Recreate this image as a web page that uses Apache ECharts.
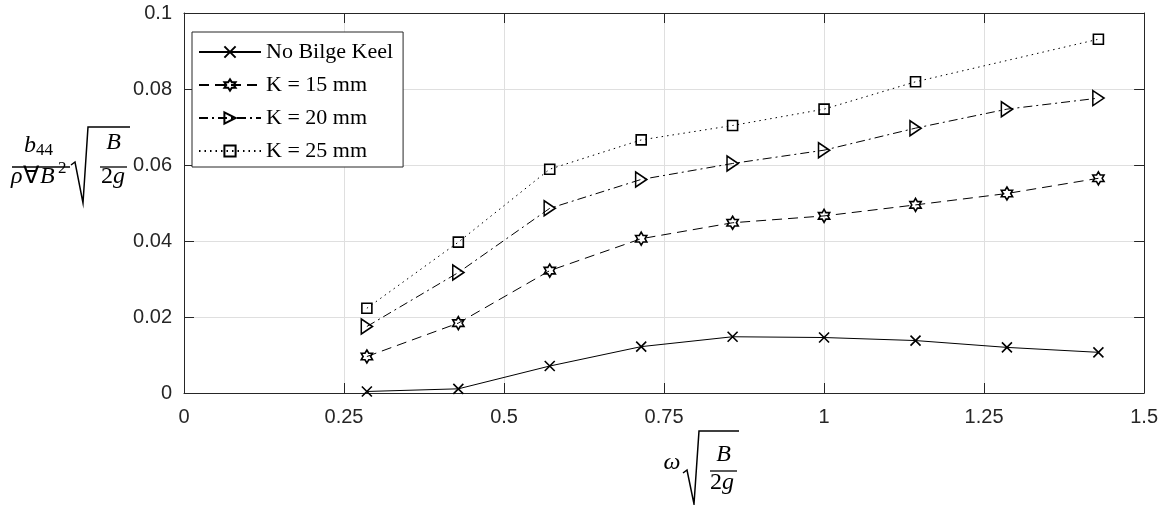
<!DOCTYPE html>
<html>
<head>
<meta charset="utf-8">
<script src="https://cdn.jsdelivr.net/npm/echarts@6/dist/echarts.min.js"></script>
<style>
html,body{margin:0;padding:0;background:#fff;}
#chart{width:1161px;height:505px;}
</style>
</head>
<body>
<div id="chart"></div>
<script>
// ---- data ----
const xValues = [0.2857, 0.4286, 0.5714, 0.7143, 0.8571, 1.0, 1.1429, 1.2857, 1.4286];
const noKeel = [0.0004, 0.0011, 0.0071, 0.0122, 0.0148, 0.0146, 0.0138, 0.0120, 0.0107];
const k15 = [0.0096, 0.0184, 0.0322, 0.0406, 0.0448, 0.0466, 0.0495, 0.0525, 0.0565];
const k20 = [0.0175, 0.0317, 0.0486, 0.0562, 0.0604, 0.0639, 0.0697, 0.0747, 0.0776];
const k25 = [0.0223, 0.0397, 0.0589, 0.0666, 0.0704, 0.0747, 0.0819, null, 0.0931];
const seriesNames = ['No Bilge Keel', 'K = 15 mm', 'K = 20 mm', 'K = 25 mm'];
const xTicks = [0, 0.25, 0.5, 0.75, 1, 1.25, 1.5];
const yTicks = [0, 0.02, 0.04, 0.06, 0.08, 0.1];

function pairs(ys) {
  const out = [];
  ys.forEach((y, i) => { if (y !== null) out.push([xValues[i], y]); });
  return out;
}

const CROSS = 'path://M0,0L10,10M10,0L0,10';
const HEX = 'path://M50,0L64.43,25L93.3,25L78.87,50L93.3,75L64.43,75L50,100L35.57,75L6.7,75L21.13,50L6.7,25L35.57,25Z';
const TRI = 'path://M0,0L12,7L0,14Z';

const AX = '#262626';
const tickFont = {fontFamily: '"Liberation Sans", Arial, sans-serif', fontSize: 20, color: AX};

function mkSeries(name, ys, symbol, size, dash) {
  return {
    name: name, type: 'line', data: pairs(ys),
    symbol: symbol, symbolSize: size, symbolKeepAspect: true,
    showSymbol: true,
    lineStyle: {color: '#000', width: 1, type: dash},
    itemStyle: {color: 'rgba(0,0,0,0)', borderColor: '#000', borderWidth: 1.6},
    emphasis: {disabled: true},
    z: 5
  };
}

const serif = '"Liberation Serif", "Times New Roman", serif';
function T(text, x, y, size, italic, align) {
  return {
    type: 'text', silent: true,
    style: {
      text: text, x: x, y: y, fill: '#000',
      font: (italic ? 'italic ' : '') + size + 'px ' + serif,
      align: align || 'left', verticalAlign: 'middle'
    }
  };
}
function L(x1, y1, x2, y2, w) {
  return {type: 'line', silent: true, shape: {x1: x1, y1: y1, x2: x2, y2: y2}, style: {stroke: '#000', lineWidth: w || 1.3}};
}
function P(points, w) {
  return {type: 'polyline', silent: true, shape: {points: points}, style: {stroke: '#000', fill: 'none', lineWidth: w || 1.5, lineJoin: 'miter'}};
}

const M = 24, S = 17;
const graphics = [
  // y-axis label
  T('b', 24, 146, M, true),
  T('44', 36, 151, S, false),
  L(12, 167, 70, 167),
  T('ρ', 11, 177, M, true),
  T('∀', 23, 177, M, false),
  T('B', 40, 177, M, true),
  T('2', 58, 169, S, false),
  P([[71, 165], [75, 162], [83, 203], [88, 127], [130, 127]]),
  T('B', 113.5, 143, M, true, 'center'),
  L(100, 167, 127, 167),
  T('2', 101, 177, M, false),
  T('g', 113, 177, M, true),
  // x-axis label
  T('ω', 672, 463, M, true, 'center'),
  P([[683, 473], [687, 470], [694, 504], [699, 431], [739, 431]]),
  T('B', 723.5, 455, M, true, 'center'),
  L(710, 471, 737, 471),
  T('2', 710, 483, M, false),
  T('g', 722, 483, M, true)
];

const chart = echarts.init(document.getElementById('chart'), null, {renderer: 'canvas'});
chart.setOption({
  animation: false,
  backgroundColor: '#fff',
  grid: {left: 184, top: 13, right: 16, bottom: 112, containLabel: false},
  legend: {
    data: seriesNames,
    orient: 'vertical',
    left: 192, top: 32,
    padding: [9, 10, 5, 6],
    itemGap: 11,
    itemWidth: 62, itemHeight: 14,
    backgroundColor: '#fff',
    borderColor: AX, borderWidth: 1, borderRadius: 0,
    textStyle: {fontFamily: serif, fontSize: 22, color: '#000'},
    selectedMode: false
  },
  xAxis: [{
    type: 'value', min: xTicks[0], max: xTicks[xTicks.length - 1], interval: 0.25,
    axisLine: {show: true, onZero: false, lineStyle: {color: AX, width: 1}},
    axisTick: {show: true, inside: true, length: 10, lineStyle: {color: AX}},
    axisLabel: Object.assign({margin: 14, showMinLabel: true, showMaxLabel: true}, tickFont),
    splitLine: {show: true, lineStyle: {color: '#dfdfdf', width: 1}}
  }, {
    type: 'value', position: 'top', min: xTicks[0], max: xTicks[xTicks.length - 1], interval: 0.25,
    axisLine: {show: true, onZero: false, lineStyle: {color: AX, width: 1}},
    axisTick: {show: true, inside: true, length: 10, lineStyle: {color: AX}},
    axisLabel: {show: false}, splitLine: {show: false}
  }],
  yAxis: [{
    type: 'value', min: yTicks[0], max: yTicks[yTicks.length - 1], interval: 0.02,
    axisLine: {show: true, onZero: false, lineStyle: {color: AX, width: 1}},
    axisTick: {show: true, inside: true, length: 10, lineStyle: {color: AX}},
    axisLabel: Object.assign({margin: 12, showMinLabel: true, showMaxLabel: true}, tickFont),
    splitLine: {show: true, lineStyle: {color: '#dfdfdf', width: 1}}
  }, {
    type: 'value', position: 'right', min: yTicks[0], max: yTicks[yTicks.length - 1], interval: 0.02,
    axisLine: {show: true, onZero: false, lineStyle: {color: AX, width: 1}},
    axisTick: {show: true, inside: true, length: 10, lineStyle: {color: AX}},
    axisLabel: {show: false}, splitLine: {show: false}
  }],
  series: [
    mkSeries(seriesNames[0], noKeel, CROSS, 10, 'solid'),
    mkSeries(seriesNames[1], k15, HEX, 13, [10, 6]),
    mkSeries(seriesNames[2], k20, TRI, [13, 15], [9, 4, 2, 4]),
    mkSeries(seriesNames[3], k25, 'rect', 10, [1.5, 4])
  ],
  graphic: graphics
});
</script>
</body>
</html>
